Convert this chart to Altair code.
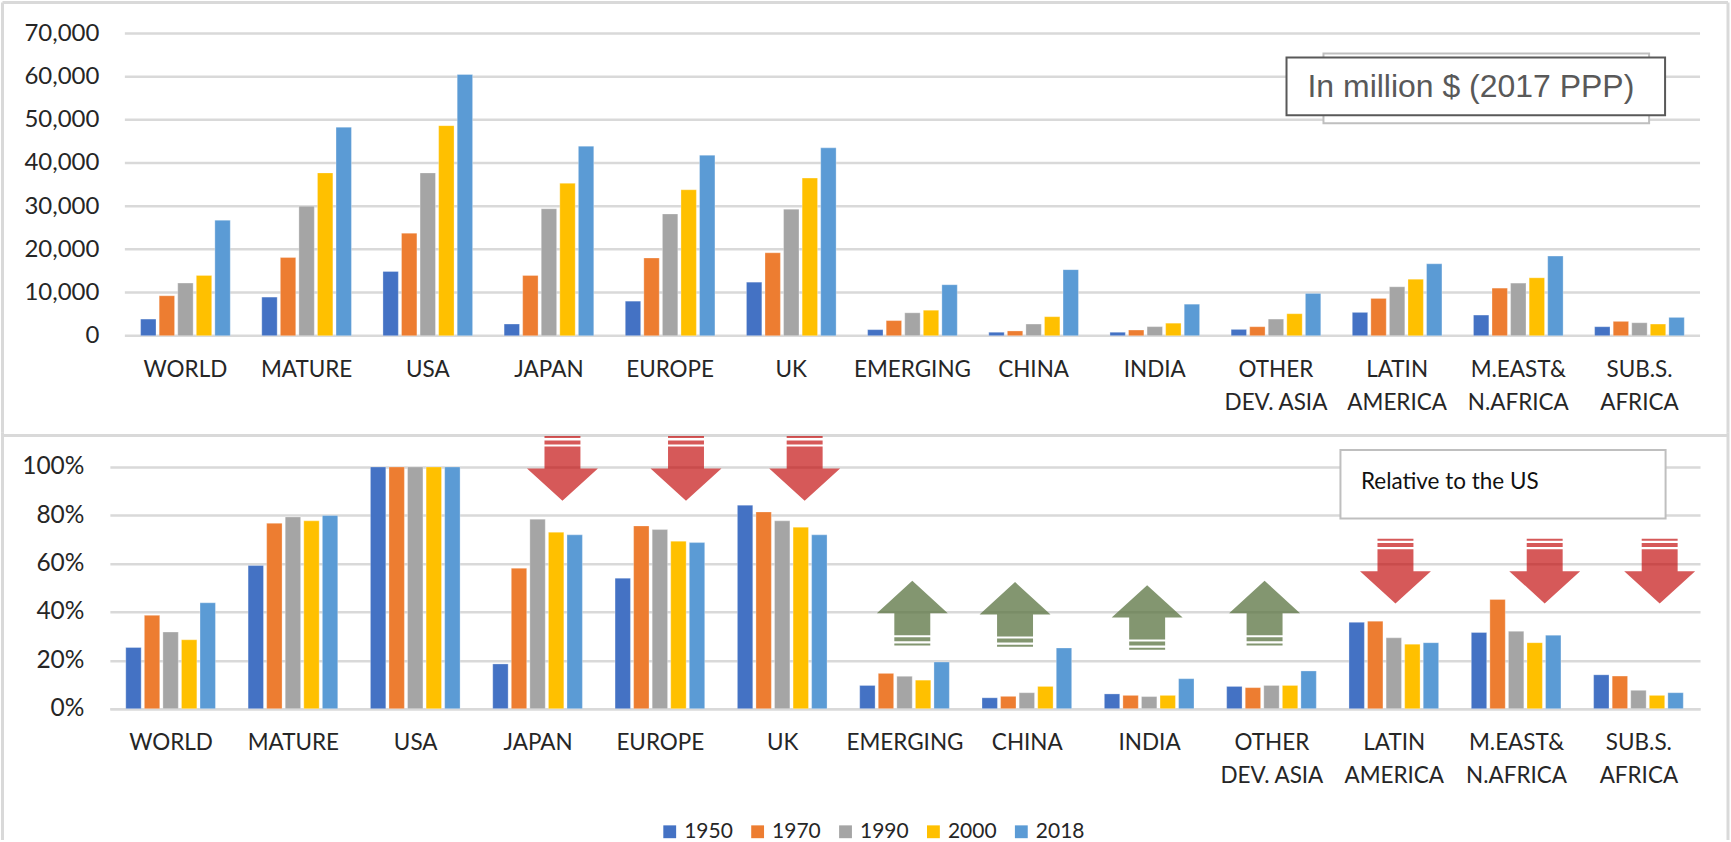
import altair as alt
import pandas as pd

# Income per head by region, constant 2017 PPP dollars, and the same series relative to the US
regions = ["WORLD", "MATURE", "USA", "JAPAN", "EUROPE", "UK", "EMERGING", "CHINA", "INDIA",
           "OTHER\nDEV. ASIA", "LATIN\nAMERICA", "M.EAST&\nN.AFRICA", "SUB.S.\nAFRICA"]
years = ["1950", "1970", "1990", "2000", "2018"]
colors = ["#4472C4", "#ED7D31", "#A5A5A5", "#FFC000", "#5B9BD5"]

level_1950 = [3850, 8940, 14880, 2700, 8000, 12400, 1400, 800, 800, 1460, 5400, 4780, 2080]
level_1970 = [9250, 18100, 23750, 13950, 18000, 19200, 3500, 1100, 1300, 2080, 8630, 11020, 3320]
level_1990 = [12180, 30000, 37700, 29400, 28200, 29300, 5300, 2700, 2100, 3850, 11330, 12180, 3000]
level_2000 = [13950, 37700, 48650, 35300, 33800, 36500, 5900, 4400, 2900, 5090, 13100, 13410, 2700]
level_2018 = [26750, 48300, 60500, 43900, 41800, 43500, 11800, 15300, 7300, 9790, 16650, 18430, 4240]
level_ticks = [0, 10000, 20000, 30000, 40000, 50000, 60000, 70000]

rel_1950 = [25.3, 59.2, 100, 18.5, 54.0, 84.2, 9.6, 4.5, 6.1, 9.2, 35.7, 31.5, 14.0]
rel_1970 = [38.6, 76.7, 100, 58.1, 75.6, 81.4, 14.6, 5.1, 5.5, 8.7, 36.2, 45.2, 13.5]
rel_1990 = [31.7, 79.3, 100, 78.4, 74.1, 77.7, 13.4, 6.6, 5.0, 9.6, 29.3, 32.0, 7.6]
rel_2000 = [28.5, 77.7, 100, 73.0, 69.3, 75.1, 11.8, 9.2, 5.5, 9.6, 26.7, 27.3, 5.5]
rel_2018 = [43.8, 79.9, 100, 71.9, 68.7, 71.9, 19.3, 25.1, 12.4, 15.6, 27.3, 30.4, 6.6]
rel_ticks = [0, 0.2, 0.4, 0.6, 0.8, 1.0]

# Direction markers on the relative panel: position in category units, height as a share
down_x = [3.70, 4.71, 5.68, 10.51, 11.73, 12.67]
down_y = [0.994, 0.994, 0.994, 0.569, 0.569, 0.569]
up_x = [6.56, 7.40, 8.48, 9.44]
up_y = [0.395, 0.39, 0.377, 0.395]

DOWN_ARROW = ("M-0.507,-0.911L0.507,-0.911L0.507,-0.855L-0.507,-0.855Z"
              "M-0.507,-0.79L0.507,-0.79L0.507,-0.677L-0.507,-0.677Z"
              "M-0.507,-0.62L0.507,-0.62L0.507,0L1,0L0,0.913L-1,0L-0.507,0Z")
UP_ARROW = ("M-0.507,0.911L0.507,0.911L0.507,0.855L-0.507,0.855Z"
            "M-0.507,0.79L0.507,0.79L0.507,0.677L-0.507,0.677Z"
            "M-0.507,0.62L0.507,0.62L0.507,0L1,0L0,-0.913L-1,0L-0.507,0Z")

FONT = "Lato"
INK = "#262626"
GRID = "#D9D9D9"
PLOT_W = 1592


def long_table(columns):
    return pd.DataFrame([
        {"region": r, "year": y, "value": v}
        for y, col in zip(years, columns)
        for r, v in zip(regions, col)
    ])


def bars(table, y_axis, domain, x_range, show_domain, legend, plot_h):
    x_scale = dict(paddingInner=0.26, paddingOuter=0.13)
    if x_range:
        x_scale["range"] = x_range
    return (
        alt.Chart(table)
        .mark_bar(stroke="white", strokeWidth=0.5, strokeOpacity=0.6)
        .encode(
            x=alt.X(
                "region:N",
                sort=regions,
                scale=alt.Scale(**x_scale),
                axis=alt.Axis(
                    title=None, labelAngle=0, ticks=False, grid=False, domain=show_domain,
                    domainColor=GRID, domainWidth=2.5,
                    labelExpr="split(datum.label, '\\n')",
                    labelFont=FONT, labelFontSize=22.5, labelColor=INK,
                    labelPadding=23, labelBaseline="top", labelLineHeight=33,
                    labelAlign="center",
                ),
            ),
            xOffset=alt.XOffset("year:N", sort=years, scale=alt.Scale(paddingInner=0.17)),
            y=alt.Y("value:Q", scale=alt.Scale(domain=domain, nice=False), axis=y_axis),
            color=alt.Color("year:N", scale=alt.Scale(domain=years, range=colors), legend=legend),
        )
        .properties(width=PLOT_W, height=plot_h)
    )


blank = alt.Data(values=[{"k": 1}])


def box(x, x2, y, y2, stroke, width=2, fill="white"):
    return alt.Chart(blank).mark_rect(fill=fill, stroke=stroke, strokeWidth=width).encode(
        x=alt.value(x), x2=alt.value(x2), y=alt.value(y), y2=alt.value(y2)
    )


def vrule(x, y, y2):
    return alt.Chart(blank).mark_rule(color=GRID, strokeWidth=3, strokeCap="square").encode(
        x=alt.value(x), y=alt.value(y), y2=alt.value(y2)
    )


def hrule(x, x2, y):
    return alt.Chart(blank).mark_rule(color=GRID, strokeWidth=3).encode(
        x=alt.value(x), x2=alt.value(x2), y=alt.value(y)
    )


FRAME_L, FRAME_R = -107.5, 1620

# Upper panel: levels. Its gridlines start right of the shared plot origin.
H1 = 302.6
top_axis = alt.Axis(
    title=None, values=level_ticks, format=",.0f",
    ticks=False, domain=False, grid=False,
    labelFont=FONT, labelFontSize=24, labelColor=INK, labelPadding=11,
)
top_bars = bars(long_table([level_1950, level_1970, level_1990, level_2000, level_2018]),
                top_axis, [0, 70000], [15, PLOT_W], False, None, H1)
top_grid = alt.Chart(pd.DataFrame({"tick": level_ticks})).mark_rule(
    color=GRID, strokeWidth=2.5
).encode(
    y=alt.Y("tick:Q", scale=alt.Scale(domain=[0, 70000], nice=False), axis=None),
    x=alt.value(15), x2=alt.value(PLOT_W),
)
top_note = alt.Chart(blank).mark_text(
    text="In million $ (2017 PPP)", font="Liberation Sans", fontSize=32, color="#595959",
    align="left", baseline="middle",
).encode(x=alt.value(1199), y=alt.value(54))
top_panel = alt.layer(
    hrule(FRAME_L, FRAME_R, -31),
    vrule(FRAME_L, -29.5, 398.3),
    vrule(FRAME_R, -29.5, 398.3),
    top_grid,
    top_bars,
    box(1215, 1541, 20, 90, "#BFBFBF"),
    box(1178, 1557, 24, 82, "#595959"),
    top_note,
).resolve_axis(y="independent")

# Lower panel: relative to the US, with the direction arrows drawn over the bars
H2 = 242
bottom_axis = alt.Axis(
    title=None, values=rel_ticks, format=".0%",
    ticks=False, domain=False, gridColor=GRID, gridWidth=2.5,
    labelFont=FONT, labelFontSize=24.5, labelColor=INK, labelPadding=26,
)
legend = alt.Legend(
    title=None, orient="none", legendX=550, legendY=354.5, direction="horizontal",
    symbolType="square", symbolSize=165, symbolStrokeWidth=0,
    labelFont=FONT, labelFontSize=21, labelColor=INK, labelOffset=4, columnPadding=14,
)
bottom_bars = bars(long_table([[v / 100 for v in c] for c in
                               [rel_1950, rel_1970, rel_1990, rel_2000, rel_2018]]),
                   bottom_axis, [0, 1], None, True, legend, H2)


def arrows(xs, ys, shape, fill, opacity):
    return (
        alt.Chart(pd.DataFrame({"pos": xs, "share": ys}))
        .mark_point(shape=shape, filled=True, fill=fill, opacity=opacity, size=5041, strokeWidth=0)
        .encode(
            x=alt.X("pos:Q", scale=alt.Scale(domain=[0, 13], nice=False), axis=None),
            y=alt.Y("share:Q", scale=alt.Scale(domain=[0, 1], nice=False), axis=bottom_axis),
        )
    )


bottom_note = alt.Chart(blank).mark_text(
    text="Relative to the US", font=FONT, fontSize=22.5, color="#111111",
    align="left", baseline="middle",
).encode(x=alt.value(1252.5), y=alt.value(15))

bottom_panel = alt.layer(
    hrule(FRAME_L, FRAME_R, -31.5),
    vrule(FRAME_L, -33, 372),
    vrule(FRAME_R, -33, 372),
    bottom_bars,
    arrows(down_x, down_y, DOWN_ARROW, "#C00000", 0.65),
    arrows(up_x, up_y, UP_ARROW, "#5A7340", 0.75),
    box(1232, 1557.5, -17, 51.7, "#BFBFBF"),
    bottom_note,
).resolve_scale(x="independent")

chart = (
    alt.concat(top_panel, bottom_panel, columns=1, spacing=-3, bounds="full")
    .resolve_scale(color="independent")
    .properties(padding={"left": 0, "top": 0, "right": 0, "bottom": 0},
                autosize=alt.AutoSizeParams(type="pad"), background="white")
    .configure_view(stroke=None)
)

chart.save("out.html", embed_options={"renderer": "svg", "actions": False})
